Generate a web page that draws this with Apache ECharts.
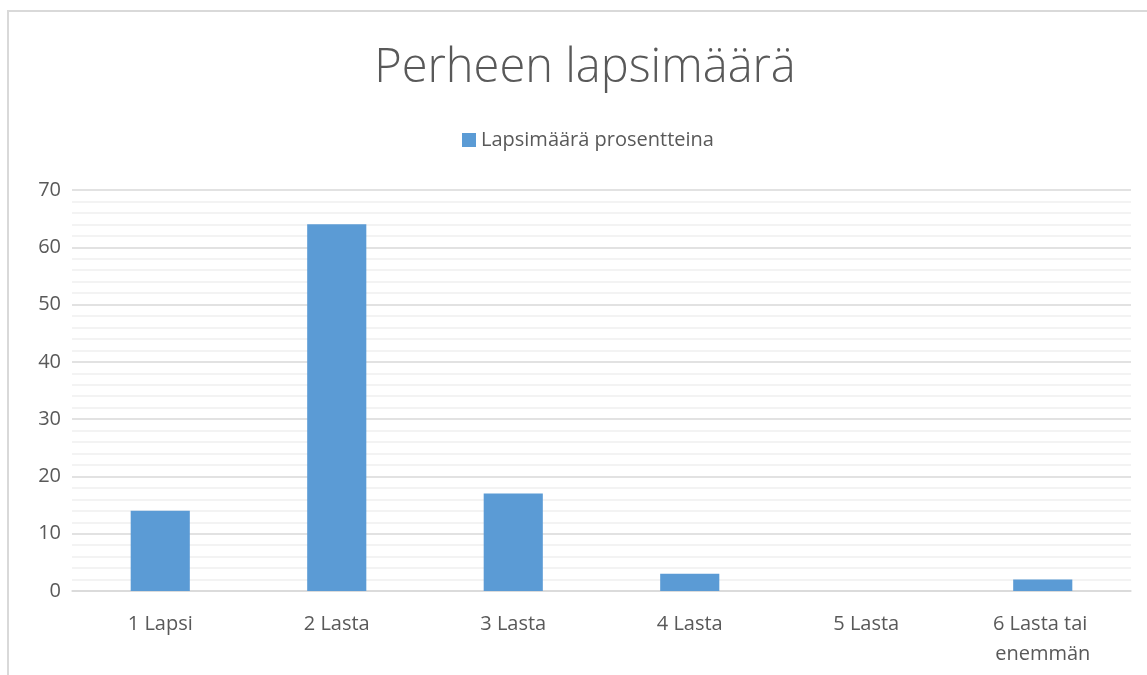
<!DOCTYPE html>
<html>
<head>
<meta charset="utf-8">
<script src="https://cdn.jsdelivr.net/npm/echarts@6/dist/echarts.min.js"></script>
<style>
	html, body { margin: 0; padding: 0; background: #fff; }
	#chart { width: 1147px; height: 675px; }
</style>
</head>
<body>
<div id="chart"></div>
<script>
var categories = ['1 Lapsi', '2 Lasta', '3 Lasta', '4 Lasta', '5 Lasta', '6 Lasta tai enemmän'];
var values = [14, 64, 17, 3, 0, 2];
var seriesName = 'Lapsimäärä prosentteina';
var titleText = 'Perheen lapsimäärä';

var chart = echarts.init(document.getElementById('chart'));
var option = {
	animation: false,
	textStyle: { fontFamily: 'Open Sans' },
	graphic: [{
		type: 'polyline',
		shape: { points: [[8, 675], [8, 11], [1147, 11]] },
		style: { stroke: '#d9d9d9', lineWidth: 2, fill: null },
		silent: true
	}],
	title: {
		text: titleText,
		left: 580,
		textAlign: 'center',
		top: 40,
		textStyle: {
			fontFamily: 'Open Sans',
			fontWeight: 300,
			fontSize: 47,
			color: '#595959'
		}
	},
	legend: {
		data: [seriesName],
		top: 125,
		left: 457,
		icon: 'rect',
		itemWidth: 14,
		itemHeight: 14,
		itemGap: 6,
		textStyle: { fontSize: 20, color: '#595959' }
	},
	grid: {
		left: 72,
		right: 16,
		top: 190,
		bottom: 84
	},
	xAxis: {
		type: 'category',
		data: categories,
		axisLine: { lineStyle: { color: '#d9d9d9', width: 1.5 } },
		axisTick: { show: false },
		axisLabel: {
			interval: 0,
			fontSize: 20,
			color: '#595959',
			margin: 18,
			lineHeight: 30,
			width: 140,
			overflow: 'break'
		}
	},
	yAxis: {
		type: 'value',
		min: 0,
		max: 70,
		interval: 10,
		axisLine: { show: false },
		axisTick: { show: false },
		axisLabel: { fontSize: 20, color: '#595959', margin: 11 },
		splitLine: { lineStyle: { color: '#d9d9d9', width: 1.5 } },
		minorTick: { show: false, splitNumber: 5 },
		minorSplitLine: { show: true, lineStyle: { color: '#f0f0f0', width: 1.5 } }
	},
	series: [{
		name: seriesName,
		type: 'bar',
		data: values,
		barWidth: '33.5%',
		itemStyle: { color: '#5b9bd5' }
	}]
};
chart.setOption(option);
</script>
</body>
</html>
